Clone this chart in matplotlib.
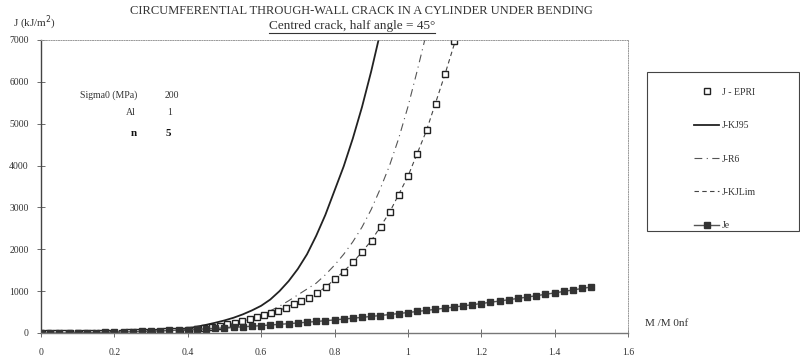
import numpy as np
import matplotlib
matplotlib.use('Agg')
import matplotlib.pyplot as plt
from matplotlib.patches import Rectangle
from matplotlib.lines import Line2D

# ---------- data ----------
m_epri = [0.0, 0.02, 0.04, 0.06, 0.08, 0.10, 0.12, 0.14, 0.16, 0.18, 0.20,
          0.22, 0.24, 0.26, 0.28, 0.30, 0.32, 0.34, 0.36, 0.38, 0.403, 0.424,
          0.445, 0.465, 0.488, 0.508, 0.529, 0.548, 0.569, 0.588, 0.608, 0.627,
          0.647, 0.669, 0.689, 0.710, 0.730, 0.752, 0.777, 0.801, 0.826, 0.851,
          0.876, 0.901, 0.926, 0.951, 0.976, 1.001, 1.026, 1.052, 1.076, 1.102,
          1.127]
j_epri = [0, 0, 0, 0, 1, 1, 2, 3, 4, 5, 7,
          9, 12, 15, 19, 24, 31, 39, 48, 59, 72, 95,
          119, 150, 174, 208, 246, 279, 327, 375, 422, 485,
          532, 604, 685, 771, 843, 947, 1105, 1282, 1463, 1695,
          1933, 2203, 2537, 2895, 3301, 3754, 4272, 4845, 5473, 6181,
          6976]

m_kj95 = [0.0, 0.1, 0.2, 0.25, 0.3, 0.35, 0.4, 0.425, 0.45, 0.475, 0.5,
          0.525, 0.55, 0.575, 0.6, 0.625, 0.65, 0.675, 0.7, 0.725, 0.75,
          0.775, 0.8, 0.825, 0.85, 0.875, 0.9, 0.92]
j_kj95 = [0, 1, 8, 20, 40, 70, 112, 150, 195, 245, 300,
          365, 445, 540, 650, 800, 1000, 1240, 1530, 1880, 2320,
          2820, 3400, 3980, 4650, 5400, 6250, 7000]

m_r6 = [0.0, 0.1, 0.2, 0.3, 0.35, 0.4, 0.45, 0.5, 0.55, 0.6, 0.625, 0.65,
        0.675, 0.7, 0.725, 0.75, 0.775, 0.8, 0.825, 0.85, 0.875, 0.9,
        0.925, 0.95, 0.975, 1.0, 1.025, 1.046]
j_r6 = [0, 1, 6, 24, 45, 75, 125, 195, 300, 440, 530, 640,
        770, 910, 1050, 1190, 1390, 1620, 1880, 2180, 2530, 2950,
        3450, 4000, 4650, 5400, 6250, 7000]

m_kjlim = [0.0, 0.1, 0.2, 0.3, 0.4, 0.45, 0.5, 0.55, 0.6, 0.65, 0.7, 0.75,
           0.8, 0.85, 0.9, 0.95, 1.0, 1.05, 1.1, 1.13]
j_kjlim = [0, 1, 6, 22, 68, 110, 190, 285, 400, 540, 740, 930,
           1270, 1680, 2200, 2880, 3740, 4820, 6150, 7000]

m_je = [0.0, 0.025, 0.05, 0.075, 0.1, 0.125, 0.15, 0.175, 0.2, 0.225, 0.25,
        0.275, 0.3, 0.325, 0.35, 0.375, 0.4, 0.425, 0.45, 0.475, 0.5,
        0.525, 0.55, 0.575, 0.6, 0.625, 0.65, 0.675, 0.7, 0.725, 0.75,
        0.775, 0.8, 0.825, 0.85, 0.875, 0.9, 0.925, 0.95, 0.975, 1.0,
        1.025, 1.05, 1.075, 1.1, 1.125, 1.15, 1.175, 1.2, 1.225, 1.25,
        1.275, 1.3, 1.325, 1.35, 1.375, 1.4, 1.425, 1.45, 1.475, 1.5]
j_je = [0, 0, 1, 3, 5, 8, 11, 15, 20, 25, 31,
        37, 44, 52, 60, 69, 78, 88, 99, 110, 122,
        135, 148, 162, 176, 191, 207, 223, 240, 257, 275,
        294, 313, 333, 353, 374, 396, 418, 441, 465, 489,
        514, 539, 565, 592, 619, 647, 675, 704, 734, 764,
        795, 826, 858, 891, 924, 958, 993, 1028, 1064, 1100]

x_ticks = [0, 0.2, 0.4, 0.6, 0.8, 1, 1.2, 1.4, 1.6]
x_tick_labels = ['0', '0.2', '0.4', '0.6', '0.8', '1', '1.2', '1.4', '1.6']
y_ticks = [0, 1000, 2000, 3000, 4000, 5000, 6000, 7000]

title = 'CIRCUMFERENTIAL THROUGH-WALL CRACK IN A CYLINDER UNDER BENDING'
subtitle = 'Centred crack, half angle = 45°'


def main():
    plt.rcParams['font.family'] = ['Liberation Serif', 'DejaVu Serif']
    ink = '#333333'
    W, H = 800, 356

    fig = plt.figure(figsize=(8.0, 3.56), dpi=100)
    ax = fig.add_axes([41 / W, 1 - 333 / H, (628 - 41) / W, (333 - 40) / H])

    ax.plot(m_kj95, j_kj95, color='#222222', lw=1.3, label='J-KJ95')
    ax.plot(m_r6, j_r6, color='#555555', lw=0.8,
            dashes=[7, 4, 1, 4], label='J-R6')
    ax.plot(m_kjlim, j_kjlim, color='#444444', lw=0.8,
            dashes=[4, 3], label='J-KJLim')
    ax.plot(m_epri, j_epri, ls='none', marker='s', ms=4.5, mfc='white',
            mec='#222222', mew=1.0, label='J - EPRI')
    ax.plot(m_je, j_je, color='#555555', lw=1.0, marker='s', ms=4.3,
            mfc='#333333', mec='#333333', label='Je')

    ax.set_xlim(0, 1.6)
    ax.set_ylim(0, 7000)
    ax.set_xticks(x_ticks)
    ax.set_xticklabels(x_tick_labels)
    ax.set_yticks(y_ticks)
    ax.tick_params(axis='both', direction='inout', length=6, width=0.6,
                   colors='#555555', labelcolor=ink, labelsize=7)
    ax.tick_params(axis='x', pad=8)
    ax.tick_params(axis='y', pad=6)

    ax.spines['left'].set_color('#444444')
    ax.spines['left'].set_linewidth(1.0)
    ax.spines['bottom'].set_color('#777777')
    ax.spines['bottom'].set_linewidth(1.0)
    for s in ['top', 'right']:
        ax.spines[s].set_color('#999999')
        ax.spines[s].set_linewidth(0.7)
        ax.spines[s].set_linestyle((0, (1, 1.5)))

    # parameter block
    ax.text(137 / W, 1 - 95 / H, 'Sigma0 (MPa)', transform=fig.transFigure,
            ha='right', va='center', fontsize=7, color=ink)
    ax.text(165 / W, 1 - 95 / H, '200', transform=fig.transFigure,
            ha='left', va='center', fontsize=7, color=ink)
    ax.text(136 / W, 1 - 113 / H, 'Al', transform=fig.transFigure,
            ha='right', va='center', fontsize=7, color=ink)
    ax.text(167 / W, 1 - 113 / H, '1', transform=fig.transFigure,
            ha='left', va='center', fontsize=7, color=ink)
    ax.text(137 / W, 1 - 133 / H, 'n', transform=fig.transFigure,
            ha='right', va='center', fontsize=8, color='#111111',
            fontweight='bold')
    ax.text(166 / W, 1 - 133 / H, '5', transform=fig.transFigure,
            ha='left', va='center', fontsize=8, color='#111111',
            fontweight='bold')

    # titles and axis labels
    fig.text(361 / W, 1 - 11 / H, title, ha='center', va='center',
             fontsize=9.0, color=ink)
    sub = fig.text(352 / W, 1 - 26 / H, subtitle, ha='center', va='center',
                   fontsize=9.5, color=ink)
    fig.text(13 / W, 1 - 23 / H, 'J (kJ/m$^2$)', ha='left', va='center',
             fontsize=8, color=ink)
    fig.text(645 / W, 1 - 323 / H, 'M /M 0nf', ha='left', va='center',
             fontsize=8, color=ink)

    # underline the subtitle
    fig.canvas.draw()
    bb = sub.get_window_extent(renderer=fig.canvas.get_renderer())
    bb = bb.transformed(fig.transFigure.inverted())
    fig.add_artist(Line2D([bb.x0, bb.x1], [bb.y0 - 0.002, bb.y0 - 0.002],
                          transform=fig.transFigure, color=ink, lw=0.8))

    # legend box
    fig.patches.append(Rectangle((647 / W, 1 - 231 / H), (799 - 647) / W,
                                 (231 - 72) / H, transform=fig.transFigure,
                                 fill=False, ec='#444444', lw=0.8))
    handles, labels = ax.get_legend_handles_labels()
    order = [3, 0, 1, 2, 4]
    leg = fig.legend([handles[i] for i in order], [labels[i] for i in order],
                     loc='upper left', bbox_to_anchor=(690 / W, 1 - 84 / H),
                     frameon=False, fontsize=7, handlelength=2.6,
                     handletextpad=0.3, labelspacing=2.5, borderaxespad=0)
    for t in leg.get_texts():
        t.set_color(ink)

    fig.savefig('out.png', dpi=100)
    plt.close(fig)


if __name__ == '__main__':
    main()
